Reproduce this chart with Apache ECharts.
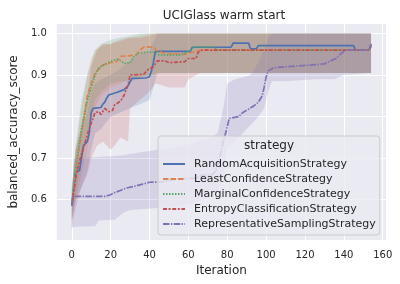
<!DOCTYPE html>
<html><head><meta charset="utf-8">
<script src="https://cdn.jsdelivr.net/npm/echarts@6/dist/echarts.min.js"></script>
<style>html,body{margin:0;padding:0;background:#fff}#c{width:400px;height:284px}</style>
</head><body><div id="c"></div><script>
const names = ['RandomAcquisitionStrategy','LeastConfidenceStrategy','MarginalConfidenceStrategy','EntropyClassificationStrategy','RepresentativeSamplingStrategy'];
const xTicks = [0,20,40,60,80,100,120,140,160];
const yTicks = [0.6,0.7,0.8,0.9,1.0];

// mean lines
const randX = [0,2,4,5,6,8,9,10,11,15,16,17,18,19,21,23,27,29,31,38,40,41,42,43,61,62,82,83,91,92,95,96,145,146,153,154];
const randY = [0.585,0.668,0.67,0.70,0.73,0.74,0.76,0.81,0.82,0.822,0.83,0.835,0.845,0.852,0.855,0.858,0.865,0.875,0.892,0.893,0.896,0.91,0.93,0.957,0.957,0.967,0.967,0.977,0.977,0.963,0.963,0.971,0.971,0.96,0.96,0.975];
const leastX = [0,1,3,5,7,8,10,12,14,16,20,23,25,33,35,37,42,44,48,58,62,66,153,154];
const leastY = [0.59,0.63,0.70,0.76,0.82,0.85,0.88,0.905,0.915,0.925,0.93,0.932,0.945,0.948,0.96,0.967,0.968,0.958,0.952,0.95,0.955,0.96,0.96,0.97];
const margX = [0,2,5,8,10,12,14,17,20,23,25,27,30,32,34,38,43,45,56,58,61,63,73,75,153,154];
const margY = [0.59,0.675,0.77,0.837,0.87,0.90,0.918,0.925,0.933,0.938,0.935,0.928,0.93,0.944,0.952,0.955,0.955,0.948,0.948,0.952,0.96,0.968,0.968,0.96,0.96,0.97];
const entX = [0,2,3,5,7,9,11,12,14,15,17,19,21,22,25,27,29,30,37,39,42,44,48,50,58,60,64,65,67,153,154];
const entY = [0.585,0.65,0.675,0.71,0.74,0.772,0.796,0.81,0.812,0.805,0.82,0.812,0.815,0.828,0.837,0.852,0.876,0.90,0.902,0.912,0.92,0.934,0.934,0.93,0.932,0.94,0.94,0.955,0.96,0.96,0.97];
const repX = [0,1,17,20,22,25,28,32,36,40,47,52,56,64,67,72,74,76,78,80,81,86,88,91,94,96,98,99,100,101,104,110,122,130,133,136,138,141,153,154];
const repY = [0.585,0.608,0.608,0.612,0.617,0.622,0.628,0.632,0.637,0.642,0.643,0.648,0.65,0.652,0.659,0.66,0.668,0.70,0.74,0.775,0.796,0.80,0.81,0.818,0.827,0.835,0.85,0.871,0.895,0.91,0.918,0.92,0.924,0.927,0.934,0.94,0.95,0.96,0.96,0.975];

// confidence bands
const randBX = [0,2,5,8,10,12,15,20,25,30,35,40,42,44,50,154];
const randLo = [0.55,0.60,0.63,0.67,0.72,0.76,0.77,0.80,0.81,0.82,0.83,0.84,0.87,0.905,0.905,0.905];
const randHi = [0.62,0.72,0.77,0.81,0.86,0.88,0.89,0.90,0.915,0.935,0.95,0.96,0.98,1.0,1.0,1.0];
const leastBX = [0,2,5,8,10,12,15,20,25,30,35,40,45,154];
const leastLo = [0.55,0.60,0.66,0.72,0.78,0.82,0.85,0.87,0.88,0.89,0.895,0.90,0.905,0.905];
const leastHi = [0.63,0.72,0.82,0.90,0.94,0.96,0.97,0.975,0.98,0.99,0.995,1.0,1.0,1.0];
const margBX = [0,2,5,8,10,12,15,20,25,30,35,40,45,154];
const margLo = [0.55,0.61,0.70,0.76,0.80,0.84,0.86,0.88,0.885,0.885,0.89,0.90,0.905,0.905];
const margHi = [0.63,0.73,0.84,0.90,0.93,0.96,0.975,0.985,0.99,0.995,1.0,1.0,1.0,1.0];
const entBX = [0,2,5,8,10,13,16,18,20,22,25,29,30,35,40,43,47,50,58,60,64,66,154];
const entLo = [0.53,0.58,0.63,0.66,0.70,0.73,0.74,0.73,0.72,0.73,0.75,0.74,0.82,0.84,0.86,0.88,0.875,0.87,0.87,0.89,0.90,0.905,0.905];
const entHi = [0.62,0.72,0.78,0.85,0.92,0.96,0.975,0.975,0.975,0.98,0.985,0.99,0.99,0.99,0.995,1.0,1.0,1.0,1.0,1.0,1.0,1.0,1.0];
const repBX = [0,1,12,14,22,27,30,44,55,62,68,72,75,78,80,84,88,92,96,99,101,103,110,125,135,140,154];
const repLo = [0.53,0.535,0.536,0.55,0.552,0.57,0.575,0.58,0.585,0.59,0.60,0.61,0.62,0.66,0.72,0.74,0.76,0.78,0.80,0.82,0.86,0.885,0.885,0.89,0.89,0.90,0.905];
const repHi = [0.59,0.70,0.702,0.703,0.705,0.707,0.71,0.72,0.727,0.735,0.745,0.75,0.76,0.82,0.88,0.89,0.895,0.90,0.93,0.96,0.99,1.0,1.0,1.0,1.0,1.0,1.0];

const colors = ['#4C72B0','#DD8452','#55A868','#C44E52','#8172B3'];
const bandColors = ['rgba(76,114,176,0.2)','rgba(221,132,82,0.2)','rgba(85,168,104,0.2)','rgba(196,78,82,0.2)','rgba(129,114,179,0.2)'];
const dashes = ['solid',[5.5,2],[1.5,1.5],[4,1.6,2,1.6],[6.5,1.4,1.4,1.4]];

const lines = [[randX,randY],[leastX,leastY],[margX,margY],[entX,entY],[repX,repY]];
const bands = [[randBX,randLo,randHi],[leastBX,leastLo,leastHi],[margBX,margLo,margHi],[entBX,entLo,entHi],[repBX,repLo,repHi]];

const FONT = 'DejaVu Sans';
const TXT = '#262626';

function bandSeries(i) {
  const [xs, lo, hi] = bands[i];
  const data = xs.map((x, k) => [x, lo[k], hi[k]]);
  return {
    type: 'custom', name: names[i] + ' ci', silent: true, z: 1,
    data: data, encode: {x: 0, y: [1, 2]},
    renderItem: function (params, api) {
      if (params.dataIndex !== 0) return null;
      const pts = [];
      for (let k = 0; k < data.length; k++) pts.push(api.coord([data[k][0], data[k][2]]));
      for (let k = data.length - 1; k >= 0; k--) pts.push(api.coord([data[k][0], data[k][1]]));
      return {type: 'polygon', shape: {points: pts}, style: {fill: bandColors[i], stroke: null}};
    }
  };
}
function lineSeries(i) {
  const [xs, ys] = lines[i];
  return {
    type: 'line', name: names[i], z: 3,
    data: xs.map((x, k) => [x, ys[k]]),
    symbol: 'none', showSymbol: false,
    lineStyle: {color: colors[i], width: 1.7, type: dashes[i]},
    itemStyle: {color: colors[i]}
  };
}

const series = [];
for (let i = 0; i < 5; i++) series.push(bandSeries(i));
for (let i = 0; i < 5; i++) series.push(lineSeries(i));

const chart = echarts.init(document.getElementById('c'), null, {renderer: 'canvas'});
chart.setOption({
  animation: false,
  backgroundColor: '#ffffff',
  title: {text: 'UCIGlass warm start', left: 219, top: 5, textAlign: 'center',
    textStyle: {fontFamily: FONT, fontSize: 12, fontWeight: 'normal', color: TXT}},
  grid: {left: 52, right: 14, top: 24, bottom: 44, show: true, backgroundColor: '#EAEAF2', borderWidth: 0},
  xAxis: {type: 'value', min: -7.7, max: 161.7,
    name: 'Iteration', nameLocation: 'middle', nameGap: 22,
    nameTextStyle: {fontFamily: FONT, fontSize: 12, color: TXT},
    axisLine: {show: false}, axisTick: {show: false, customValues: xTicks},
    axisLabel: {customValues: xTicks, fontFamily: FONT, fontSize: 10, color: TXT, margin: 10},
    splitLine: {show: true, lineStyle: {color: '#ffffff', width: 1}}},
  yAxis: {type: 'value', min: 0.503, max: 1.023,
    name: 'balanced_accuracy_score', nameLocation: 'middle', nameGap: 33,
    nameTextStyle: {fontFamily: FONT, fontSize: 12, color: TXT},
    axisLine: {show: false}, axisTick: {show: false, customValues: yTicks},
    axisLabel: {customValues: yTicks, fontFamily: FONT, fontSize: 10, color: TXT, margin: 10,
      formatter: v => v.toFixed(1)},
    splitLine: {show: true, lineStyle: {color: '#ffffff', width: 1}}},
  legend: {data: names, orient: 'vertical', left: 158, top: 136, padding: [22, 4, 5, 4],
    itemWidth: 22, itemHeight: 10, itemGap: 3,
    itemStyle: {color: 'rgba(0,0,0,0)', borderWidth: 0, opacity: 0},
    backgroundColor: 'rgba(234,234,242,0.8)', borderColor: '#cccccc', borderWidth: 1, borderRadius: 3,
    textStyle: {fontFamily: FONT, fontSize: 11, lineHeight: 12, color: TXT, padding: [0, 0, 0, 4]}},
  graphic: [{type: 'text', z: 100, x: 269, y: 146,
    style: {text: 'strategy', font: '12px "DejaVu Sans"', fill: TXT, align: 'center', verticalAlign: 'middle'}}],
  series: series
});
</script></body></html>
